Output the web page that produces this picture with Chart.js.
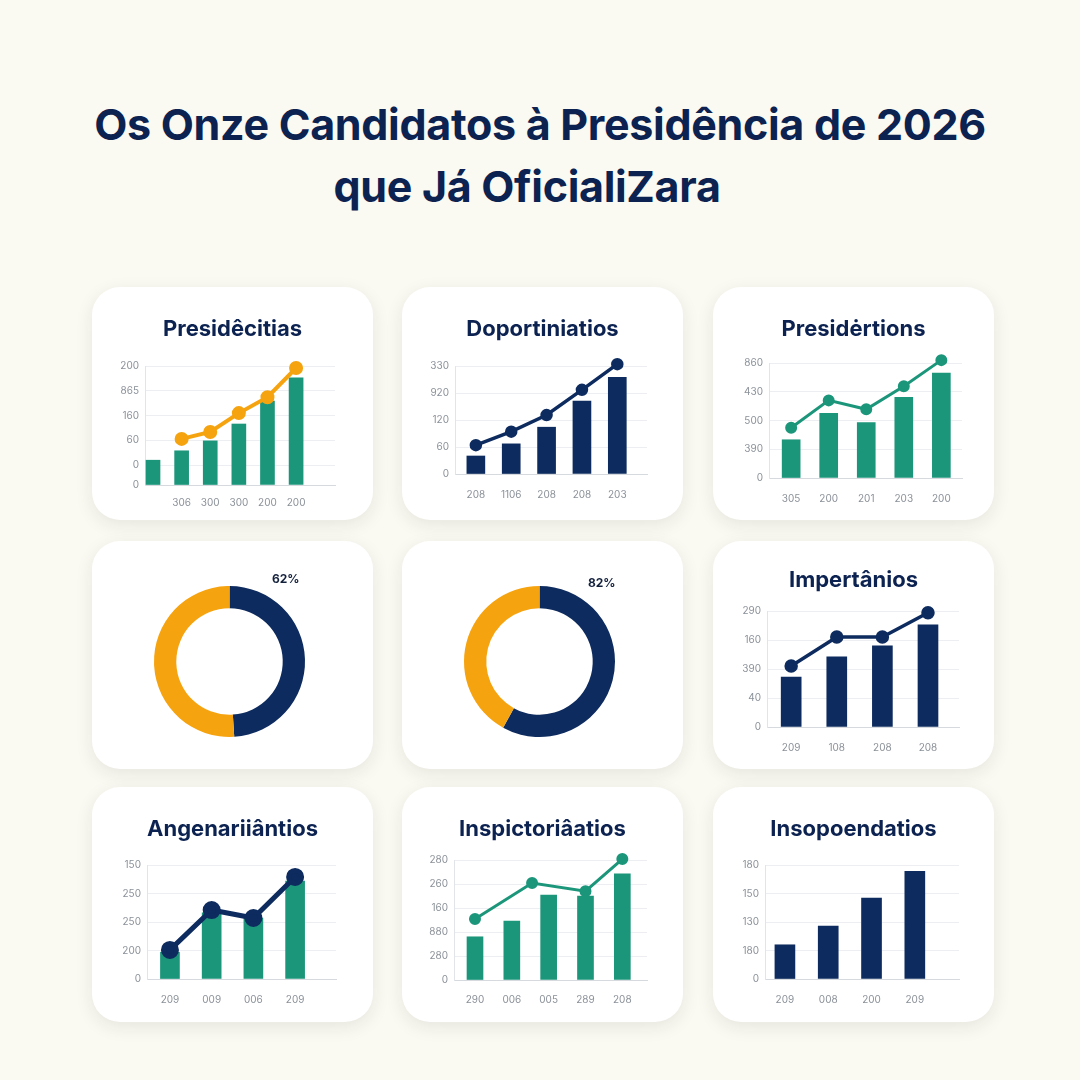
<!DOCTYPE html>
<html lang="pt">
<head>
<meta charset="utf-8">
<title>Os Onze Candidatos à Presidência de 2026</title>
<script src="https://cdn.jsdelivr.net/npm/chart.js@4.4.1/dist/chart.umd.min.js"></script>
<style>
  html, body { margin: 0; padding: 0; }
  body { width: 1080px; height: 1080px; background: #faf9f2; position: relative; overflow: hidden; }
  h1 { position: absolute; left: 0; top: 93px; width: 1080px; margin: 0; text-align: center;
       font: 700 43px/62px Inter, "Noto Sans", sans-serif; color: #0c2250; letter-spacing: -0.3px; }
  h1 span { position: relative; left: -13px; }
  .card { position: absolute; background: #fff; border-radius: 28px; box-shadow: 0 5px 18px rgba(40, 40, 30, 0.09); }
  .card canvas { display: block; }
  .ctitle { position: absolute; left: 0; width: 100%; text-align: center;
            font: 700 22px/26px Inter, sans-serif; color: #0c2250; }
  .pct { position: absolute; font: 700 12px Inter, sans-serif; color: #14213d; }
</style>
</head>
<body>
<h1>Os Onze Candidatos à Presidência de 2026<br><span>que Já OficialiZara</span></h1>

<div class="card" style="left:92px;top:287px;width:281px;height:233px"><div class="ctitle" id="t1" style="top:28px"></div><canvas id="c1" width="281" height="233"></canvas></div>
<div class="card" style="left:402px;top:287px;width:281px;height:233px"><div class="ctitle" id="t2" style="top:28px"></div><canvas id="c2" width="281" height="233"></canvas></div>
<div class="card" style="left:713px;top:287px;width:281px;height:233px"><div class="ctitle" id="t3" style="top:28px"></div><canvas id="c3" width="281" height="233"></canvas></div>

<div class="card" style="left:92px;top:541px;width:281px;height:228px"><canvas id="c4" width="281" height="228"></canvas><span class="pct" style="left:180px;top:30px">62%</span></div>
<div class="card" style="left:402px;top:541px;width:281px;height:228px"><canvas id="c5" width="281" height="228"></canvas><span class="pct" style="left:186px;top:34px">82%</span></div>
<div class="card" style="left:713px;top:541px;width:281px;height:228px"><div class="ctitle" id="t6" style="top:25px"></div><canvas id="c6" width="281" height="228"></canvas></div>

<div class="card" style="left:92px;top:787px;width:281px;height:235px"><div class="ctitle" id="t7" style="top:28px"></div><canvas id="c7" width="281" height="235"></canvas></div>
<div class="card" style="left:402px;top:787px;width:281px;height:235px"><div class="ctitle" id="t8" style="top:28px"></div><canvas id="c8" width="281" height="235"></canvas></div>
<div class="card" style="left:713px;top:787px;width:281px;height:235px"><div class="ctitle" id="t9" style="top:28px"></div><canvas id="c9" width="281" height="235"></canvas></div>

<script>
// card 1
const c1Title = 'Presidêcitias';
const c1XLabels = ['', '306', '300', '300', '200', '200'];
const c1YTicks = [0, 40, 90, 140, 190, 240];
const c1YLabels = ['0', '0', '60', '160', '865', '200'];
const c1Bars = [50, 69, 89, 123, 169, 216];
const c1Line = [null, 93, 107, 145, 177, 236];

// card 2
const c2Title = 'Doportiniatios';
const c2XLabels = ['208', '1106', '208', '208', '203'];
const c2YTicks = [0, 60, 120, 180, 240];
const c2YLabels = ['0', '60', '120', '920', '330'];
const c2Bars = [40, 67, 104, 162, 215];
const c2Line = [64, 94, 131, 187, 244];

// card 3
const c3Title = 'Presidėrtions';
const c3XLabels = ['305', '200', '201', '203', '200'];
const c3YTicks = [0, 100, 200, 300, 400];
const c3YLabels = ['0', '390', '500', '430', '860'];
const c3Bars = [133, 225, 193, 281, 365];
const c3Line = [175, 270, 239, 319, 410];

// donuts
const c4Values = [49, 51];
const c5Values = [58, 42];

// card 6
const c6Title = 'Impertânios';
const c6XLabels = ['209', '108', '208', '208'];
const c6YTicks = [0, 50, 100, 150, 200];
const c6YLabels = ['0', '40', '390', '160', '290'];
const c6Bars = [86, 121, 140, 176];
const c6Line = [105, 155, 155, 197];

// card 7
const c7Title = 'Angenariiântios';
const c7XLabels = ['209', '009', '006', '209'];
const c7YTicks = [0, 50, 100, 150, 200];
const c7YLabels = ['0', '200', '250', '250', '150'];
const c7Bars = [47, 116, 107, 172];
const c7Line = [51, 121, 107, 179];

// card 8
const c8Title = 'Inspictoriâatios';
const c8XLabels = ['290', '006', '005', '289', '208'];
const c8YTicks = [0, 50, 100, 150, 200, 250];
const c8YLabels = ['0', '280', '880', '160', '260', '280'];
const c8Bars = [90, 123, 177, 175, 221];
const c8LineX = [0, 1.55, 3, 4];
const c8Line = [127, 202, 185, 252];

// card 9
const c9Title = 'Insopoendatios';
const c9XLabels = ['209', '008', '200', '209'];
const c9YTicks = [0, 50, 100, 150, 200];
const c9YLabels = ['0', '180', '130', '150', '180'];
const c9Bars = [60, 93, 142, 189];

const NAVY = '#0d2b5e';
const GREEN = '#1c967a';
const ORANGE = '#f6a310';
const TICK = '#8b9199';

function comboChart(id, o) {
  const canvas = document.getElementById('c' + id);
  document.getElementById('t' + id).textContent = o.title;
  const W = canvas.width, H = canvas.height;
  const [aLeft, aRight, aTop, aBottom] = o.area;
  const datasets = [];
  if (o.line) {
    datasets.push({
      type: 'line',
      data: o.line.map((v, i) => ({ x: o.lineX ? o.lineX[i] : i, y: v })).filter(p => p.y !== null),
      borderColor: o.lineColor,
      backgroundColor: o.lineColor,
      borderWidth: o.lineWidth,
      pointRadius: o.pointRadius,
      tension: 0,
      clip: false,
      order: 0
    });
  }
  datasets.push({
    type: 'bar',
    data: o.bars.map((v, i) => ({ x: i, y: v })),
    backgroundColor: o.barColor,
    barThickness: o.barThickness,
    order: 1
  });

  new Chart(canvas, {
    type: 'bar',
    data: { datasets },
    options: {
      responsive: false,
      animation: false,
      events: [],
      layout: { padding: { left: aLeft - 40, right: W - aRight, top: aTop, bottom: H - aBottom - 30 } },
      plugins: { legend: { display: false }, tooltip: { enabled: false } },
      scales: {
        x: {
          type: 'linear',
          offset: false,
          min: o.xMin,
          max: o.xMax,
          afterFit: s => { s.height = 30; },
          afterBuildTicks: s => { s.ticks = o.xLabels.map((_, i) => ({ value: i })); },
          ticks: {
            callback: (v, i) => o.xLabels[i],
            color: TICK,
            font: { family: 'Inter', size: 10 },
            padding: o.xPad,
            autoSkip: false,
            maxRotation: 0
          },
          grid: { display: false, offset: false },
          border: { color: '#d6dadf' }
        },
        y: {
          min: 0,
          max: o.yTicks[o.yTicks.length - 1],
          afterFit: s => { s.width = 40; },
          afterBuildTicks: s => { s.ticks = o.yTicks.map(v => ({ value: v })); },
          ticks: {
            callback: (v, i) => o.yLabels[i],
            color: TICK,
            font: { family: 'Inter', size: 10 },
            padding: 6
          },
          grid: { color: '#eceef1', drawTicks: false },
          border: { color: '#e1e4e8' }
        }
      }
    }
  });
}

function donutChart(id, values) {
  const canvas = document.getElementById(id);
  new Chart(canvas, {
    type: 'doughnut',
    data: {
      labels: ['A', 'B'],
      datasets: [{ data: values, backgroundColor: [NAVY, ORANGE], borderWidth: 0 }]
    },
    options: {
      responsive: false,
      animation: false,
      events: [],
      cutout: '70.5%',
      layout: { padding: { left: 62, right: 68, top: 45, bottom: 32 } },
      plugins: { legend: { display: false }, tooltip: { enabled: false } }
    }
  });
}

comboChart(1, {
  title: c1Title, xLabels: c1XLabels, yTicks: c1YTicks, yLabels: c1YLabels,
  bars: c1Bars, barColor: GREEN, barThickness: 14,
  line: c1Line, lineColor: ORANGE, lineWidth: 4, pointRadius: 5,
  area: [53, 243, 79, 198], xMin: -0.28, xMax: 6.36, xPad: 4
});
comboChart(2, {
  title: c2Title, xLabels: c2XLabels, yTicks: c2YTicks, yLabels: c2YLabels,
  bars: c2Bars, barColor: NAVY, barThickness: 18,
  line: c2Line, lineColor: NAVY, lineWidth: 3.5, pointRadius: 4.5,
  area: [53, 245, 79, 187], xMin: -0.59, xMax: 4.84, xPad: 7
});
comboChart(3, {
  title: c3Title, xLabels: c3XLabels, yTicks: c3YTicks, yLabels: c3YLabels,
  bars: c3Bars, barColor: GREEN, barThickness: 18,
  line: c3Line, lineColor: GREEN, lineWidth: 3, pointRadius: 4.5,
  area: [56, 249, 76, 191], xMin: -0.59, xMax: 4.55, xPad: 7
});
donutChart('c4', c4Values);
donutChart('c5', c5Values);
comboChart(6, {
  title: c6Title, xLabels: c6XLabels, yTicks: c6YTicks, yLabels: c6YLabels,
  bars: c6Bars, barColor: NAVY, barThickness: 20,
  line: c6Line, lineColor: NAVY, lineWidth: 3.5, pointRadius: 5,
  area: [54, 246, 70, 186], xMin: -0.53, xMax: 3.68, xPad: 7
});
comboChart(7, {
  title: c7Title, xLabels: c7XLabels, yTicks: c7YTicks, yLabels: c7YLabels,
  bars: c7Bars, barColor: GREEN, barThickness: 19,
  line: c7Line, lineColor: NAVY, lineWidth: 5, pointRadius: 6.5,
  area: [55, 244, 78, 192], xMin: -0.55, xMax: 3.98, xPad: 7
});
comboChart(8, {
  title: c8Title, xLabels: c8XLabels, yTicks: c8YTicks, yLabels: c8YLabels,
  bars: c8Bars, barColor: GREEN, barThickness: 16,
  line: c8Line, lineX: c8LineX, lineColor: GREEN, lineWidth: 3, pointRadius: 4.5,
  area: [52, 245, 73, 193], xMin: -0.57, xMax: 4.67, xPad: 6
});
comboChart(9, {
  title: c9Title, xLabels: c9XLabels, yTicks: c9YTicks, yLabels: c9YLabels,
  bars: c9Bars, barColor: NAVY, barThickness: 20,
  area: [52, 246, 78, 192], xMin: -0.46, xMax: 4.02, xPad: 7
});
</script>
</body>
</html>
